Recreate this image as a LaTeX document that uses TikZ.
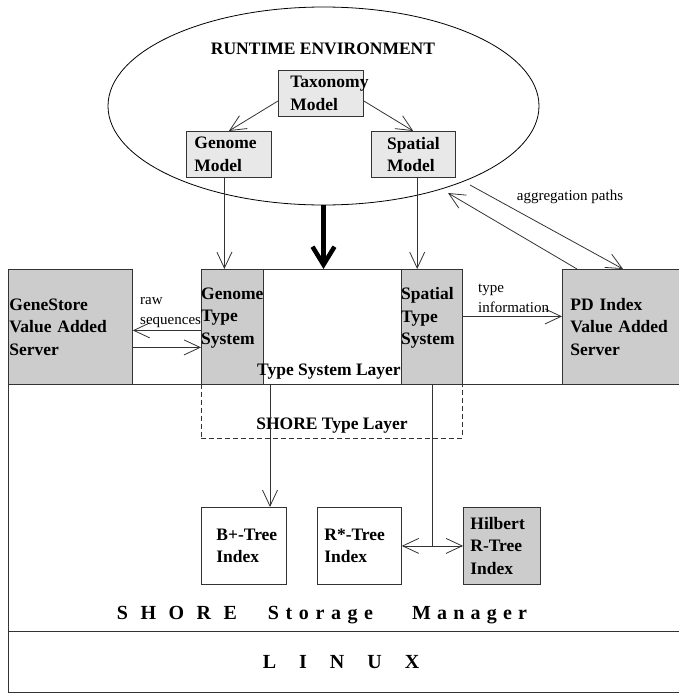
\documentclass[tikz,border=0pt]{standalone}
\usepackage{fontspec}
\setmainfont{Liberation Serif}
\usepackage{tikz}
\usetikzlibrary{shapes.geometric}
\usetikzlibrary{arrows.meta}
\usetikzlibrary{positioning}
\definecolor{modelBody}{rgb}{0.91,0.91,0.91}
\definecolor{serverBody}{rgb}{0.8,0.8,0.8}
\definecolor{edge}{rgb}{0.2,0.2,0.2}
\newcommand{\boxfont}{\fontsize{17.5}{22.5}\selectfont\bfseries}
\newcommand{\notefont}{\fontsize{15}{20}\selectfont}
\newcommand{\layerfont}{\fontsize{20}{24}\selectfont\bfseries}
\makeatletter
\newcommand{\gapped}[2]{%
  \def\gap@sep{}%
  \@tfor\gap@c:=#2\do{\gap@sep\gap@c\def\gap@sep{\hspace{#1}}}}
\makeatother
\tikzstyle{box} = [rectangle, draw=edge, line width=0.8pt, anchor=north west,
        align=left, font=\boxfont, inner ysep=0pt]
\tikzstyle{model} = [box, fill=modelBody]
\tikzstyle{server} = [box, fill=serverBody]
\tikzstyle{index} = [box, fill=white]
\tikzstyle{boxtitle} = [font=\boxfont, align=left, inner sep=0pt]
\tikzstyle{note} = [font=\notefont, align=left, anchor=west, inner sep=0pt]
\tikzstyle{flow} = [line width=0.8pt, draw=edge]

\begin{document}
\begin{tikzpicture}[x=1pt, y=-1pt, >={Straight Barb[length=16pt,width=15pt]}]
    \useasboundingbox (0,0) rectangle (678,694);
    % runtime environment
    \node [ellipse, draw, line width=0.8pt, minimum width=431pt, minimum height=198pt] (env) at (323.5,106) {};
    \node [boxtitle] (envtitle) at (323,49) {RUNTIME ENVIRONMENT};
    \node [model, minimum width=85pt, minimum height=46pt, inner xsep=12pt, text width=61pt] (taxo) at (278,70) {Taxonomy\\Model};
    \node [model, minimum width=85pt, minimum height=46pt, inner xsep=8pt, text width=69pt] (genome) at (186,131) {Genome\\Model};
    \node [model, minimum width=84pt, minimum height=46pt, inner xsep=16pt, text width=52pt, right=99pt of genome] (spatial) {Spatial\\Model};
    % type system layer and servers
    \node [server, minimum width=124pt, minimum height=115pt, inner xsep=1pt, text width=122pt] (genestore) at (8,269) {GeneStore\\Value Added\\Server};
    \node [index, minimum width=261pt, minimum height=115pt] (tsl) at (201,269) {};
    \node [server, minimum width=62pt, minimum height=115pt, inner xsep=0pt] (gts) at (201,269) {};
    \node [server, minimum width=61pt, minimum height=115pt, inner xsep=0pt] (sts) at (401,269) {};
    \node [boxtitle, anchor=west] (gtstext) at (201,318) {Genome\\Type\\System};
    \node [boxtitle, anchor=west] (ststext) at (401,318) {Spatial\\Type\\System};
    \node [boxtitle] (tsltext) at (329,372) {Type System Layer};
    \node [server, minimum width=120pt, minimum height=115pt, inner xsep=8pt, text width=104pt] (pdindex) at (562,269) {PD Index\\Value Added\\Server};
    % shore layers
    \node [draw=edge, line width=0.8pt, dash pattern=on 5pt off 3pt, anchor=north west, inner sep=0pt,
        minimum width=261pt, minimum height=54pt] (stl) at (201,384) {};
    \node [boxtitle] (stltext) at (332,426) {SHORE Type Layer};
    \node [anchor=north west, inner sep=0pt, minimum width=674pt, minimum height=247pt] (shore) at (8,384) {};
    \node [anchor=north west, inner sep=0pt, minimum width=674pt, minimum height=61pt] (linux) at (8,631) {};
    \draw [flow, line width=0.9pt] (shore.north east) -- (shore.north west) -- (linux.south west) -- (linux.south east);
    \draw [flow, line width=0.9pt] (linux.north west) -- (linux.north east);
    \node [font=\layerfont] (shoretext) at (322,615) {\gapped{12.5pt}{SHORE}\hspace{31pt}\gapped{6.6pt}{Storage}\hspace{39pt}\gapped{6.2pt}{Manager}};
    \node [font=\layerfont] (linuxtext) at (341,662) {\gapped{23pt}{LINUX}};
    % index structures
    \node [index, minimum width=85pt, minimum height=77pt, inner xsep=15pt, text width=55pt] (bplus) at (201,507) {\mbox{B+-Tree}\\Index};
    \node [index, minimum width=84pt, minimum height=77pt, inner xsep=7pt, text width=70pt] (rstar) at (317,507) {\mbox{R*-Tree}\\Index};
    \node [server, minimum width=77pt, minimum height=77pt, inner xsep=7pt, text width=63pt] (hilbert) at (463,507) {Hilbert\\\mbox{R-Tree}\\Index};
    % connectors
    \draw [flow, ->] (taxo.190) -- (genome.north);
    \draw [flow, ->] (taxo.350) -- (spatial.north);
    \draw [flow, ->] ([xshift=-4.5pt]genome.south) -- ([xshift=-4.5pt]genome.south |- gts.north);
    \draw [flow, ->] ([xshift=4pt]spatial.south) -- ([xshift=4pt]spatial.south |- sts.north);
    \draw [line width=4.5pt, -{Straight Barb[length=18pt,width=22pt]}] (env.south) -- (env.south |- tsl.north);
    \draw [flow, ->] ([yshift=-3.5pt]gts.west) -- ([yshift=-3.5pt]gts.west -| genestore.east);
    \draw [flow, ->] ([yshift=-20.5pt]genestore.east) -- ([yshift=-20.5pt]genestore.east -| gts.west);
    \node [note] (rawlbl) at (140,313) {raw\\sequences};
    \draw [flow, ->] ([yshift=10.5pt]sts.east) -- ([yshift=10.5pt]sts.east -| pdindex.west);
    \node [note] (typelbl) at (478,298) {type\\information};
    \coordinate (aggin) at (448,193);
    \coordinate (aggout) at (470,185);
    \draw [flow, ->] ([xshift=15pt]pdindex.north west) -- (aggin);
    \draw [flow, ->] (aggout) -- ([xshift=61pt]pdindex.north west);
    \node [note, anchor=center] (agglbl) at (570,197) {aggregation paths};
    \draw [flow, ->] ([xshift=69pt]tsl.south west) -- ([xshift=69pt]tsl.south west |- bplus.north);
    \draw [flow] (sts.south) -- (sts.south |- rstar.east);
    \draw [flow, <->] (rstar.east) -- (hilbert.west);
\end{tikzpicture}
\end{document}
